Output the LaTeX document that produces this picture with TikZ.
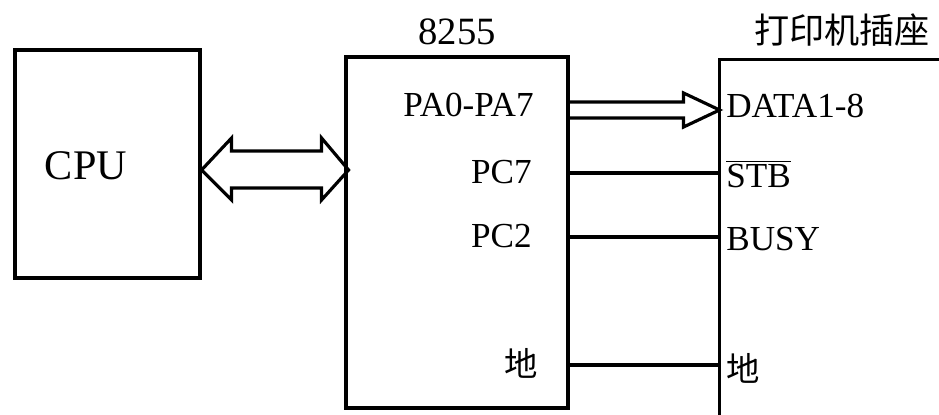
\documentclass[tikz,border=0pt]{standalone}
\usepackage{fontspec}
\setmainfont{Liberation Serif}
\newfontfamily\cjk{Noto Sans CJK SC}
\usetikzlibrary{positioning,calc}
\tikzset{
  unit/.style={draw=black,line width=1.8pt,inner sep=0pt},
  pinlabel/.style={font=\fontsize{20}{24}\selectfont,inner sep=0pt},
  titlelabel/.style={font=\fontsize{22}{26}\selectfont,inner sep=0pt},
  wire/.style={line width=1.8pt},
  busarrow/.style={line width=1.8pt,line join=miter}
}

\begin{document}
\begin{tikzpicture}[x=0.02cm,y=-0.02cm]
  \clip (0,0) rectangle (939,415);
  % blocks
  \node[unit,minimum width=3.7cm,minimum height=4.56cm] (cpu) at (107.5,164) {};
  \node[pinlabel,font=\fontsize{24}{28}\selectfont] (cpuname) at (86,166) {CPU};
  \node[unit,minimum width=4.44cm,minimum height=7.02cm] (chip) at (457,232.5) {};
  \node[titlelabel,above=0.2cm of chip] (chipname) {8255};
  \node[unit,anchor=north west,minimum width=6cm,minimum height=8cm] (prn) at (718,58) {};
  \node[titlelabel,font=\cjk\fontsize{20}{24}\selectfont] (prnname) at (842,30) {打印机插座};
  % pins of the 8255
  \node[pinlabel,anchor=east] (pa) at (534,105) {PA0-PA7};
  \node[pinlabel,anchor=east] (pc7) at (532,172) {PC7};
  \node[pinlabel,anchor=east] (pc2) at (532,236) {PC2};
  \node[pinlabel,anchor=east,font=\cjk\fontsize{19}{22}\selectfont] (gnd) at (538,363) {地};
  % pins of the printer socket
  \node[pinlabel,anchor=west] (data) at (726,106) {DATA1-8};
  \node[pinlabel,anchor=west] (stb) at (726,174) {$\overline{\mbox{STB}}$};
  \node[pinlabel,anchor=west] (busy) at (726,239) {BUSY};
  \node[pinlabel,anchor=west,font=\cjk\fontsize{19}{22}\selectfont] (pgnd) at (726,368) {地};
  % system bus
  \coordinate (busL) at (cpu.east |- 0,170);
  \draw[busarrow] (busL) -- ++(30,-32) -- ++(0,13) -- ++(90,0) -- ++(0,-13)
    -- ++(27,32) -- ++(-27,30) -- ++(0,-12) -- ++(-90,0) -- ++(0,12) -- cycle;
  % data bus
  \coordinate (paL) at (chip.east |- 0,110);
  \draw[busarrow] ($(paL)+(0,-8)$) -- ++(114,0) -- ++(0,-9)
    -- ++(36,17) -- ++(-36,17) -- ++(0,-9) -- ++(-114,0);
  % control lines
  \draw[wire] (chip.east |- 0,173) -- (prn.west |- 0,173);
  \draw[wire] (chip.east |- 0,237) -- (prn.west |- 0,237);
  \draw[wire] (chip.east |- 0,365) -- (prn.west |- 0,365);
\end{tikzpicture}
\end{document}
